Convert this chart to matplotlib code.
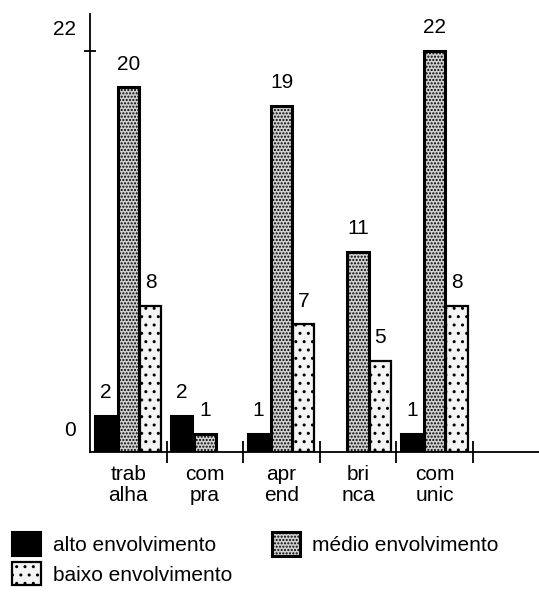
import matplotlib
matplotlib.use("Agg")
import matplotlib.pyplot as plt
import numpy as np
from matplotlib.patches import Patch
from matplotlib.transforms import ScaledTranslation

plt.rcParams['font.family'] = ['Liberation Sans', 'DejaVu Sans']
plt.rcParams['font.size'] = 15
plt.rcParams['hatch.linewidth'] = 1.0

# data
categories = ['trab\nalha', 'com\npra', 'apr\nend', 'bri\nnca', 'com\nunic']
series = ['alto envolvimento', 'médio envolvimento', 'baixo envolvimento']
alto = [2, 2, 1, 0, 1]
medio = [20, 1, 19, 11, 22]
baixo = [8, 0, 7, 5, 8]

fig = plt.figure(figsize=(5.39, 5.92), dpi=100)
ax = fig.add_axes([90 / 539, 140 / 592, 449 / 539, 438 / 592])

x = np.arange(len(categories))
w = 0.28
styles = [
    dict(facecolor='black', edgecolor='black', linewidth=1.5),
    dict(facecolor='#d0d0d0', edgecolor='black', linewidth=2.2, hatch='.....'),
    dict(facecolor='#f4f4f4', edgecolor='black', linewidth=1.6, hatch='..'),
]
offsets = [-0.30, 0.0, 0.29]

for vals, off, st in zip([alto, medio, baixo], offsets, styles):
    for xi, v in zip(x, vals):
        if v == 0:
            continue
        ax.bar(xi + off, v, width=w, **st)
        ax.annotate(str(v), (xi + off, v), xytext=(0, 10), textcoords='offset points',
                    ha='center', va='bottom', fontsize=15)

ax.set_xlim(-0.5, -0.5 + 449 / 76.6)
ax.set_ylim(0, 24.03)

for s in ['top', 'right']:
    ax.spines[s].set_visible(False)
ax.spines['left'].set_linewidth(1.3)
ax.spines['bottom'].set_linewidth(1.3)

# y ticks: labels sit a bit above their tick
ax.set_yticks([0, 22])
ax.set_yticklabels(['0', '22'])
ax.tick_params(axis='y', direction='inout', length=8, width=1.3, pad=6)
ax.yaxis.get_major_ticks()[0].tick1line.set_visible(False)
for lbl in ax.get_yticklabels():
    lbl.set_transform(lbl.get_transform() + ScaledTranslation(0, 0.24, fig.dpi_scale_trans))

# x ticks: labels at centers, tick marks between groups
ax.set_xticks(x)
ax.set_xticklabels(categories, linespacing=1.15)
ax.set_xticks(np.arange(0.5, len(categories)), minor=True)
ax.tick_params(axis='x', which='major', length=0, pad=9)
ax.tick_params(axis='x', which='minor', direction='inout', length=16, width=1.3)

handles = [Patch(label=series[0], **styles[0]),
           Patch(label=series[2], **styles[2]),
           Patch(label=series[1], **styles[1])]
fig.legend(handles=handles, ncol=2, loc='upper left', bbox_to_anchor=(2 / 539, 1 - 522 / 592),
           frameon=False, borderpad=0, handlelength=1.35, handleheight=1.35,
           handletextpad=0.6, columnspacing=1.9, labelspacing=0.3, fontsize=15)

fig.savefig('out.png', dpi=100)
